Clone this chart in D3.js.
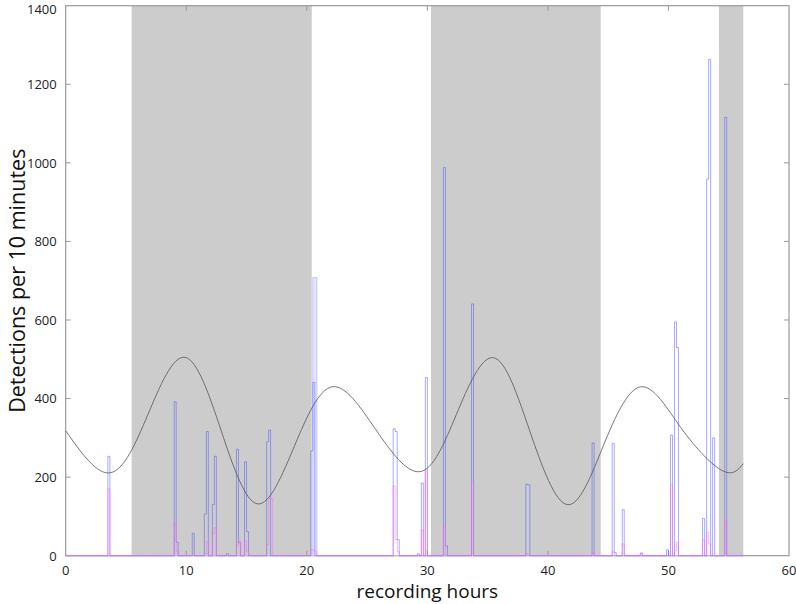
<!DOCTYPE html>
<html>
<head>
<meta charset="utf-8">
<script src="https://cdn.jsdelivr.net/npm/d3@7"></script>
<style>
body { margin: 0; background: #fff; }
svg { display: block; }
.tick-label { font-family: "Liberation Sans Narrow", "Open Sans", sans-serif; font-size: 13px; fill: #222; }
.axis-title { font-family: "Open Sans", sans-serif; font-size: 20px; fill: #111; }
</style>
</head>
<body>
<svg id="chart" width="796" height="604"></svg>
<script>
"use strict";

// 10 minute bins, [bin start in hours, detections]
var blueBins = [
    [3.5, 253], [9.0, 392], [9.167, 34], [10.5, 57], [11.5, 106], [11.667, 316],
    [12.167, 130], [12.333, 253], [13.333, 5], [14.167, 271], [14.333, 33],
    [14.833, 239], [15.0, 61], [16.667, 290], [16.833, 320], [20.333, 267],
    [20.5, 441], [27.167, 323], [27.333, 316], [27.5, 41], [29.167, 5],
    [29.5, 185], [29.833, 454], [31.333, 988], [31.5, 25], [33.667, 641],
    [38.167, 182], [38.333, 180], [43.667, 287], [45.333, 286], [45.5, 8],
    [46.167, 117], [47.667, 5], [49.833, 15], [50.167, 307], [50.5, 595],
    [50.667, 530], [52.833, 95], [53.167, 959], [53.333, 1263], [53.667, 300],
    [54.667, 1116]
];
var pinkBins = [
    [3.5, 170], [9.0, 82], [9.167, 10], [10.5, 2], [11.5, 5], [11.667, 36],
    [12.167, 56], [12.333, 72], [14.167, 25], [14.333, 38], [14.833, 38],
    [15.0, 10], [16.667, 28], [16.833, 146], [17.0, 146], [20.333, 15],
    [20.5, 15], [20.667, 10], [27.167, 178], [27.333, 41], [27.5, 10],
    [29.5, 65], [29.833, 216], [31.333, 74], [33.667, 187], [38.167, 5],
    [43.667, 8], [45.333, 10], [46.167, 30], [47.667, 8], [50.167, 180],
    [50.5, 13], [50.667, 34], [52.833, 40], [53.167, 60], [53.333, 30],
    [54.667, 89]
];
// pale, filled burst just after dusk
var paleBins = [[20.5, 708], [20.667, 708]];

var curveHours = [0, 3.7, 6.8, 9.9, 12.9, 15.9, 19.0, 22.1, 25.7, 29.4,
                  32.4, 35.5, 38.5, 41.6, 44.6, 47.7, 51.1, 54.5, 56.2];
var curveValues = [318, 211, 358, 505, 318, 132, 281, 430, 322, 214,
                   359, 504, 317, 130, 280, 430, 323, 216, 234];

var nights = [[5.47, 20.41], [30.3, 44.38], [54.19, 56.21]];

var xTicks = [0, 10, 20, 30, 40, 50, 60],
    yTicks = [0, 200, 400, 600, 800, 1000, 1200, 1400],
    recordEnd = 56.21,
    binSize = 1 / 6,

    plotLeft = 65.7,
    plotRight = 789,
    plotTop = 5.7,
    plotBottom = 555.7,
    tickLength = 5,
    frameColour = "#999";

var svg = d3.select("#chart"),
    x = d3.scaleLinear().domain([0, 60]).range([plotLeft, plotRight]),
    y = d3.scaleLinear().domain([0, 1400]).range([plotBottom, plotTop]);

// turn the sparse bins into a full step series
var toSteps = function(bins) {
    var count = Math.ceil(recordEnd / binSize),
        values = d3.range(count).map(function() { return 0; });

    bins.forEach(function(b) {
        values[Math.round(b[0] / binSize)] = b[1];
    });

    var points = values.map(function(v, i) {
        return [i * binSize, v];
    });
    points.push([recordEnd, 0]);
    return points;
};

svg.selectAll("rect.night")
    .data(nights)
    .enter()
    .append("rect")
    .classed("night", true)
    .attr("x", function(d) { return x(d[0]); })
    .attr("width", function(d) { return x(d[1]) - x(d[0]); })
    .attr("y", plotTop)
    .attr("height", plotBottom - plotTop)
    .attr("fill", "#cccccc");

// frame, with ticks pointing inwards on every side
svg.append("rect")
    .attr("x", plotLeft)
    .attr("y", plotTop)
    .attr("width", plotRight - plotLeft)
    .attr("height", plotBottom - plotTop)
    .attr("fill", "none")
    .attr("stroke", frameColour)
    .attr("stroke-width", 1.2);

var ticks = svg.append("g").attr("stroke", frameColour).attr("stroke-width", 1);

ticks.selectAll("line.xb")
    .data(xTicks.slice(1, -1))
    .enter()
    .append("line")
    .attr("x1", function(d) { return x(d); })
    .attr("x2", function(d) { return x(d); })
    .attr("y1", plotBottom)
    .attr("y2", plotBottom - tickLength);

ticks.selectAll("line.xt")
    .data(xTicks.slice(1, -1))
    .enter()
    .append("line")
    .attr("x1", function(d) { return x(d); })
    .attr("x2", function(d) { return x(d); })
    .attr("y1", plotTop)
    .attr("y2", plotTop + tickLength);

ticks.selectAll("line.yl")
    .data(yTicks.slice(1, -1))
    .enter()
    .append("line")
    .attr("x1", plotLeft)
    .attr("x2", plotLeft + tickLength)
    .attr("y1", function(d) { return y(d); })
    .attr("y2", function(d) { return y(d); });

ticks.selectAll("line.yr")
    .data(yTicks.slice(1, -1))
    .enter()
    .append("line")
    .attr("x1", plotRight)
    .attr("x2", plotRight - tickLength)
    .attr("y1", function(d) { return y(d); })
    .attr("y2", function(d) { return y(d); });

svg.selectAll("text.xlabel")
    .data(xTicks)
    .enter()
    .append("text")
    .attr("class", "tick-label")
    .attr("x", function(d) { return x(d); })
    .attr("y", plotBottom + 19.5)
    .attr("text-anchor", "middle")
    .text(function(d) { return d; });

// the top label is nudged down so it stays inside the page
svg.selectAll("text.ylabel")
    .data(yTicks)
    .enter()
    .append("text")
    .attr("class", "tick-label")
    .attr("x", plotLeft - 9)
    .attr("y", function(d) { return Math.max(y(d) + 4.8, 14); })
    .attr("text-anchor", "end")
    .text(function(d) { return d; });

var step = d3.line()
    .x(function(d) { return x(d[0]); })
    .y(function(d) { return y(d[1]); })
    .curve(d3.curveStepAfter);

svg.append("path")
    .datum(toSteps(paleBins))
    .attr("d", step)
    .attr("fill", "#e4e4ff")
    .attr("stroke", "#c4c4ff")
    .attr("stroke-width", 1);

var series = [
    { bins: blueBins, colour: "#5555ff" },
    { bins: pinkBins, colour: "#ff66ff" }
];

svg.selectAll("path.hist")
    .data(series)
    .enter()
    .append("path")
    .classed("hist", true)
    .attr("d", function(s) { return step(toSteps(s.bins)); })
    .attr("fill", "none")
    .attr("stroke", function(s) { return s.colour; })
    .attr("stroke-opacity", 0.5)
    .attr("stroke-width", 1);

var tide = d3.line()
    .x(function(d, i) { return x(curveHours[i]); })
    .y(function(d) { return y(d); })
    .curve(d3.curveNatural);

svg.append("path")
    .datum(curveValues)
    .attr("d", tide)
    .attr("fill", "none")
    .attr("stroke", "#555")
    .attr("stroke-width", 0.8);

svg.append("text")
    .attr("class", "axis-title")
    .style("font-size", "19px")
    .attr("x", (plotLeft + plotRight) / 2)
    .attr("y", 598.3)
    .attr("text-anchor", "middle")
    .text("recording hours");

svg.append("text")
    .attr("class", "axis-title")
    .style("font-size", "21.5px")
    .attr("transform", "translate(25," + ((plotTop + plotBottom) / 2) + ") rotate(-90)")
    .attr("text-anchor", "middle")
    .text("Detections per 10 minutes");
</script>
</body>
</html>
